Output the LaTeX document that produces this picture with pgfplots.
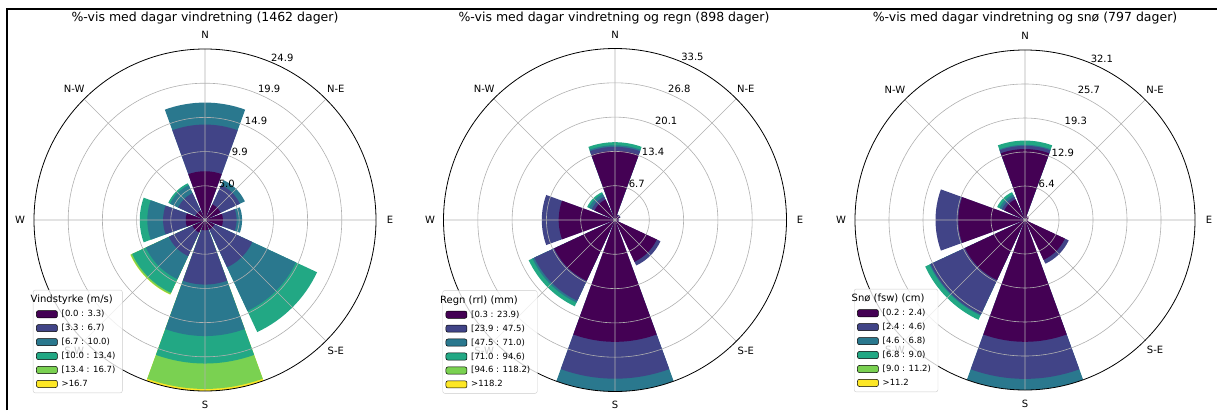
\documentclass[border=0pt]{standalone}
\usepackage{fontspec}
\setmainfont{DejaVu Sans}
\usepackage{pgfplots}
\usepackage{pgfplotstable}
\pgfplotsset{compat=1.18}
\usepgfplotslibrary{polar}

\definecolor{bin0}{HTML}{440154}
\definecolor{bin1}{HTML}{414487}
\definecolor{bin2}{HTML}{2A788E}
\definecolor{bin3}{HTML}{22A884}
\definecolor{bin4}{HTML}{7AD151}
\definecolor{bin5}{HTML}{FDE725}
\definecolor{gridgray}{HTML}{B0B0B0}
\definecolor{legframe}{HTML}{CCCCCC}

% per-bin percentages; dir = compass direction (deg, clockwise from N)
\pgfplotstableread{
dir b0 b1 b2 b3 b4 b5
0   7.1 6.8 3.2 0   0    0
45  2.5 3.1 0.8 0   0    0
90  2.6 2.0 0.8 0   0    0
135 1.5 6.1 7.0 3.4 0    0
180 1.5 7.9 7.5 4.0 3.7  0.3
225 2.0 3.8 3.7 2.2 0.25 0.05
270 2.8 3.3 2.3 1.1 0    0
315 1.5 2.8 1.3 0.3 0    0
}\roseA

\pgfplotstableread{
dir b0 b1 b2 b3 b4 b5
0   13.5 0.8 0.3 0.6 0 0
45  1.0  0.2 0   0   0 0
90  0.6  0.2 0   0   0 0
135 9.0  0.8 0   0   0 0
180 23.8 7.2 2.5 0   0 0
225 13.1 4.3 0.4 0.8 0 0
270 11.0 3.3 0   0   0 0
315 4.4  0.6 0.6 0.4 0 0
}\roseB

\pgfplotstableread{
dir b0 b1 b2 b3 b4 b5
0   13.4 0.6 0.2 0.8 0 0
45  0.8  0   0   0   0 0
90  0.5  0   0   0   0 0
135 8.3  0.8 0   0   0 0
180 23.0 7.0 2.1 0   0 0
225 12.5 7.2 0.2 0.9 0 0
270 12.6 4.3 0   0   0 0
315 4.3  0.5 0.5 0.5 0 0
}\roseC

% one wedge (center to radius #2) for compass direction #1, 40 deg wide
\newcommand\sector[3]{%
  \xdef\pts{(0,0)}%
  \foreach \k in {0,...,16}{%
    \pgfmathsetmacro\ang{110-#1-2.5*\k}%
    \xdef\pts{\pts (\ang,#2)}%
  }%
  \edef\doplot{\noexpand\addplot[fill=#3,draw=none,forget plot] coordinates {\pts};}%
  \doplot
}

\newcommand\drawrose[1]{%
  \pgfplotstablegetrowsof{#1}%
  \pgfmathtruncatemacro\lastrow{\pgfplotsretval-1}%
  \foreach \row in {0,...,\lastrow}{%
    \pgfplotstablegetelem{\row}{dir}\of{#1}\xdef\wdir{\pgfplotsretval}%
    \xdef\cum{0}%
    \foreach \b in {0,...,5}{%
      \pgfplotstablegetelem{\row}{b\b}\of{#1}%
      \expandafter\xdef\csname val\b\endcsname{\pgfplotsretval}%
      \pgfmathsetmacro\tmp{\cum+\pgfplotsretval}%
      \xdef\cum{\tmp}%
      \expandafter\xdef\csname cum\b\endcsname{\tmp}%
    }%
    \foreach \b in {5,4,...,0}{%
      \ifdim\csname val\b\endcsname pt>0pt
        \edef\rad{\csname cum\b\endcsname}%
        \sector{\wdir}{\rad}{bin\b}%
      \fi
    }%
  }%
}

\tikzset{
  rlab/.style={anchor=south west, inner sep=0.5pt, font=\fontsize{10}{12}\selectfont},
  dlab/.style={anchor=center, inner sep=0pt, font=\fontsize{10}{12}\selectfont},
}

% compass labels at radius #1 (axis units)
\newcommand\dirlabels[1]{%
  \node[dlab] at (axis cs:90,#1) {N};
  \node[dlab] at (axis cs:45,#1) {N-E};
  \node[dlab] at (axis cs:0,#1) {E};
  \node[dlab] at (axis cs:-45,#1) {S-E};
  \node[dlab] at (axis cs:-90,#1) {S};
  \node[dlab] at (axis cs:-135,#1) {S-W};
  \node[dlab] at (axis cs:180,#1) {W};
  \node[dlab] at (axis cs:135,#1) {N-W};
}

\pgfplotsset{
  windlegend/.style={legend image code/.code={\draw[##1,draw=black,line width=0.5pt] (0pt,-3.6pt) rectangle (21pt,3.6pt);}},
  rose/.style={
    scale only axis, anchor=center, clip=false,
    xmin=0, xmax=360, ymin=0,
    xtick={0,45,...,315},
    xticklabels={},
    yticklabels={},
    major tick length=0pt,
    grid=major,
    major grid style={draw=gridgray, line width=0.6pt},
    x axis line style={draw=black, line width=0.8pt},
    y axis line style={draw=none},
    axis on top,
    legend cell align=left,
    legend style={at={(0,0)}, anchor=south west, xshift=-1pt, yshift=-2pt,
      draw=legframe, fill=white, fill opacity=0.8, text opacity=1, draw opacity=1,
      rounded corners=2pt, font=\fontsize{8.5}{10}\selectfont,
      row sep=0pt, nodes={inner xsep=4pt, inner ysep=3pt}},
    legend image post style={fill opacity=1},
  },
}

\begin{document}
\begin{tikzpicture}[x=1pt,y=1pt]
\useasboundingbox (0,0) rectangle (1217,410);

% ---------- chart 1 ----------
\begin{polaraxis}[rose, at={(205pt,190pt)}, width=342pt, height=342pt,
  ymax=24.9, ytick={4.98,9.96,14.94,19.92}]
  \drawrose{\roseA}
  \addlegendimage{empty legend}\addlegendentry{\fontsize{10}{12}\selectfont\hspace*{-31pt}Vindstyrke (m/s)}
  \addlegendimage{windlegend, fill=bin0}\addlegendentry{[0.0 : 3.3)}
  \addlegendimage{windlegend, fill=bin1}\addlegendentry{[3.3 : 6.7)}
  \addlegendimage{windlegend, fill=bin2}\addlegendentry{[6.7 : 10.0)}
  \addlegendimage{windlegend, fill=bin3}\addlegendentry{[10.0 : 13.4)}
  \addlegendimage{windlegend, fill=bin4}\addlegendentry{[13.4 : 16.7)}
  \addlegendimage{windlegend, fill=bin5}\addlegendentry{>16.7}
  \node[rlab] at (axis cs:67.5,4.98) {5.0};
  \node[rlab] at (axis cs:67.5,9.96) {9.9};
  \node[rlab] at (axis cs:67.5,14.94) {14.9};
  \node[rlab] at (axis cs:67.5,19.92) {19.9};
  \node[rlab] at (axis cs:67.5,24.9) {24.9};
  \dirlabels{26.94}
\end{polaraxis}

% ---------- chart 2 ----------
\begin{polaraxis}[rose, at={(615pt,190pt)}, width=343pt, height=343pt,
  ymax=33.5, ytick={6.7,13.4,20.1,26.8}]
  \drawrose{\roseB}
  \addlegendimage{empty legend}\addlegendentry{\fontsize{10}{12}\selectfont\hspace*{-31pt}Regn (rrl) (mm)}
  \addlegendimage{windlegend, fill=bin0}\addlegendentry{[0.3 : 23.9)}
  \addlegendimage{windlegend, fill=bin1}\addlegendentry{[23.9 : 47.5)}
  \addlegendimage{windlegend, fill=bin2}\addlegendentry{[47.5 : 71.0)}
  \addlegendimage{windlegend, fill=bin3}\addlegendentry{[71.0 : 94.6)}
  \addlegendimage{windlegend, fill=bin4}\addlegendentry{[94.6 : 118.2)}
  \addlegendimage{windlegend, fill=bin5}\addlegendentry{>118.2}
  \node[rlab] at (axis cs:67.5,6.7) {6.7};
  \node[rlab] at (axis cs:67.5,13.4) {13.4};
  \node[rlab] at (axis cs:67.5,20.1) {20.1};
  \node[rlab] at (axis cs:67.5,26.8) {26.8};
  \node[rlab] at (axis cs:67.5,33.5) {33.5};
  \dirlabels{36.14}
\end{polaraxis}

% ---------- chart 3 ----------
\begin{polaraxis}[rose, at={(1025pt,190pt)}, width=340pt, height=340pt,
  ymax=32.1, ytick={6.42,12.84,19.26,25.68}]
  \drawrose{\roseC}
  \addlegendimage{empty legend}\addlegendentry{\fontsize{10}{12}\selectfont\hspace*{-31pt}Snø (fsw) (cm)}
  \addlegendimage{windlegend, fill=bin0}\addlegendentry{[0.2 : 2.4)}
  \addlegendimage{windlegend, fill=bin1}\addlegendentry{[2.4 : 4.6)}
  \addlegendimage{windlegend, fill=bin2}\addlegendentry{[4.6 : 6.8)}
  \addlegendimage{windlegend, fill=bin3}\addlegendentry{[6.8 : 9.0)}
  \addlegendimage{windlegend, fill=bin4}\addlegendentry{[9.0 : 11.2)}
  \addlegendimage{windlegend, fill=bin5}\addlegendentry{>11.2}
  \node[rlab] at (axis cs:67.5,6.42) {6.4};
  \node[rlab] at (axis cs:67.5,12.84) {12.9};
  \node[rlab] at (axis cs:67.5,19.26) {19.3};
  \node[rlab] at (axis cs:67.5,25.68) {25.7};
  \node[rlab] at (axis cs:67.5,32.1) {32.1};
  \dirlabels{34.74}
\end{polaraxis}

% titles
\node[font=\fontsize{12.5}{15}\selectfont] at (205,392) {\%-vis med dagar vindretning (1462 dager)};
\node[font=\fontsize{12.5}{15}\selectfont] at (614,392) {\%-vis med dagar vindretning og regn (898 dager)};
\node[font=\fontsize{12.5}{15}\selectfont] at (1025,392) {\%-vis med dagar vindretning og snø (797 dager)};

% screenshot frame
\draw[line width=2pt] (7,0) -- (7,400.5) -- (1217,400.5);
\end{tikzpicture}
\end{document}
